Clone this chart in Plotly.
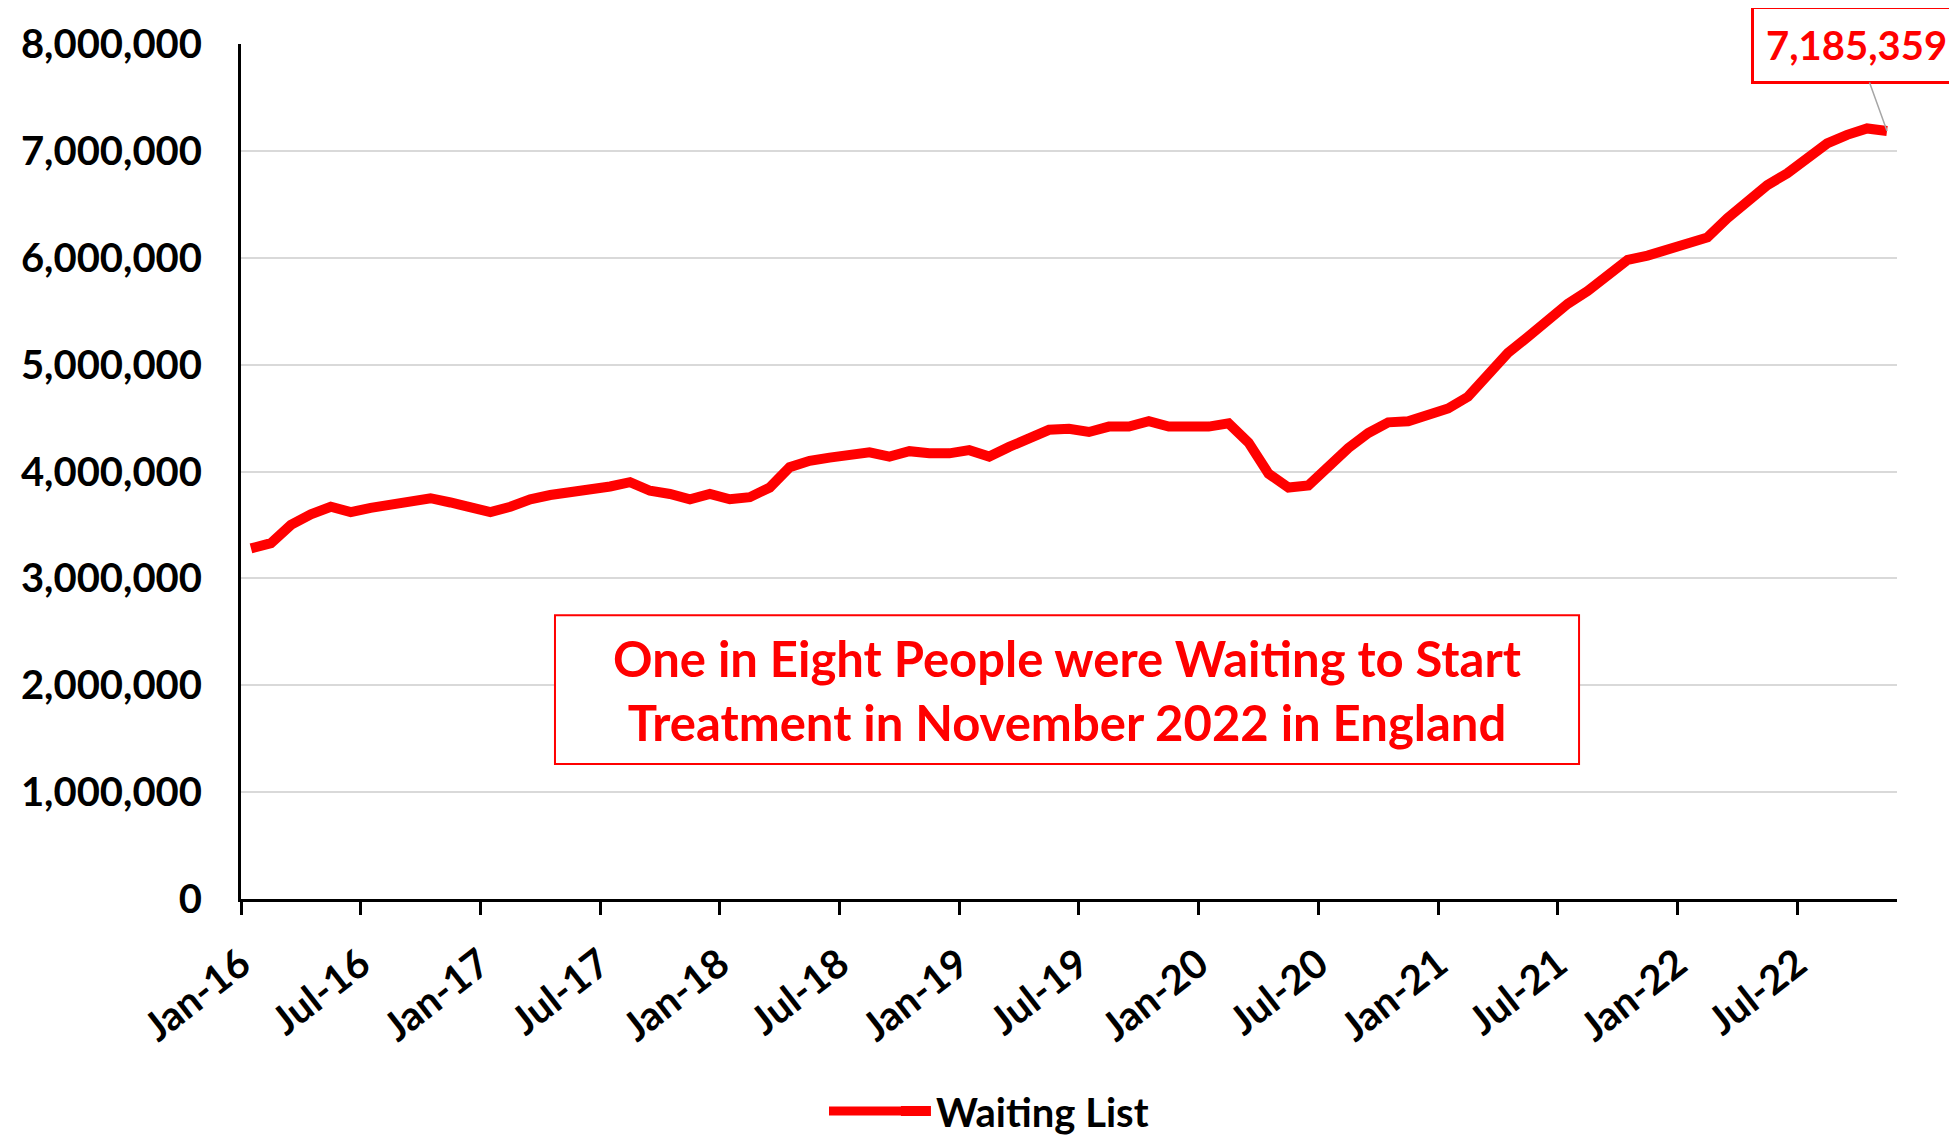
import pandas as pd
import plotly.graph_objects as go

# Monthly RTT waiting list, Jan 2016 - Nov 2022
months = pd.date_range("2016-01-01", "2022-11-01", freq="MS").strftime("%b-%y").tolist()
waiting_list = [
    3280000, 3330000, 3500000, 3600000, 3670000, 3620000, 3660000, 3690000, 3710000, 3750000, 3710000, 3660000,  # 2016
    3620000, 3670000, 3740000, 3780000, 3800000, 3820000, 3860000, 3900000, 3820000, 3790000, 3740000, 3790000,  # 2017
    3740000, 3760000, 3850000, 4040000, 4100000, 4130000, 4150000, 4180000, 4140000, 4190000, 4170000, 4170000,  # 2018
    4200000, 4140000, 4230000, 4310000, 4390000, 4400000, 4370000, 4420000, 4420000, 4470000, 4420000, 4420000,  # 2019
    4420000, 4450000, 4270000, 3980000, 3850000, 3870000, 4050000, 4220000, 4360000, 4460000, 4470000, 4530000,  # 2020
    4590000, 4700000, 4920000, 5110000, 5260000, 5420000, 5570000, 5690000, 5830000, 5980000, 6020000, 6080000,  # 2021
    6130000, 6190000, 6370000, 6530000, 6680000, 6790000, 6940000, 7070000, 7150000, 7210000, 7185359,           # 2022
]
tick_labels = ["Jan-16", "Jul-16", "Jan-17", "Jul-17", "Jan-18", "Jul-18", "Jan-19",
               "Jul-19", "Jan-20", "Jul-20", "Jan-21", "Jul-21", "Jan-22", "Jul-22"]
y_ticks = [0, 1000000, 2000000, 3000000, 4000000, 5000000, 6000000, 7000000, 8000000]
series_name = "Waiting List"
last_label = "7,185,359"
box_text = "One in Eight People were Waiting to Start<br>Treatment in November 2022 in England"

x_idx = list(range(len(months)))
tick_pos = [months.index(t) - 0.5 for t in tick_labels]

FONT = "Lato"
RED = "#FF0000"

fig = go.Figure()
fig.add_trace(go.Scatter(
    x=x_idx, y=waiting_list, mode="lines", name=series_name,
    customdata=months, hovertemplate="%{customdata}: %{y:,}<extra></extra>",
    line=dict(color=RED, width=10),
))

fig.update_layout(
    width=1949, height=1131,
    paper_bgcolor="white", plot_bgcolor="white",
    margin=dict(l=233, r=60, t=36, b=240, autoexpand=False),
    font=dict(family=FONT, color="#000000"),
    showlegend=True,
    legend=dict(orientation="h", x=0.3955, xanchor="left", y=-0.248, yanchor="middle",
                bgcolor="rgba(0,0,0,0)",
                font=dict(family=FONT, size=40, color="#000000", weight="bold")),
    xaxis=dict(
        range=[-0.5, len(months) - 0.5], tickmode="array", tickvals=tick_pos, ticktext=tick_labels,
        tickangle=-38, tickfont=dict(family=FONT, size=40, color="#000000", weight="bold"),
        showline=True, linecolor="#000000", linewidth=3,
        ticks="outside", ticklen=13, tickwidth=3, tickcolor="#000000",
        showgrid=False, zeroline=False, ticklabelstandoff=10, automargin=False,
    ),
    yaxis=dict(
        range=[0, 8000000], tickmode="array", tickvals=y_ticks, tickformat=",d",
        tickfont=dict(family=FONT, size=40, color="#000000", weight="bold"),
        showline=True, linecolor="#000000", linewidth=3,
        showgrid=True, gridcolor="#D9D9D9", gridwidth=2, zeroline=False,
        ticks="", ticklabelstandoff=28, automargin=False,
    ),
)

# text box
fig.add_shape(type="rect", xref="paper", yref="paper", x0=0.1896, x1=0.808, y0=0.158, y1=0.332,
              line=dict(color=RED, width=2), fillcolor="white", layer="above")
fig.add_annotation(xref="paper", yref="paper", x=0.4988, y=0.2444, xanchor="center", yanchor="middle",
                   text=box_text, showarrow=False, align="center",
                   font=dict(family=FONT, size=49, color=RED, weight="bold"))

# legend key extension (longer legend line as in the original)
fig.add_shape(type="line", xref="paper", yref="paper",
              x0=(829 - 241) / 1656, x1=(915 - 241) / 1656, y0=-0.248, y1=-0.248,
              line=dict(color=RED, width=9))

# data label on the last point
fig.add_annotation(x=x_idx[-1], y=waiting_list[-1], text=last_label,
                   showarrow=True, arrowhead=0, arrowwidth=1.5, arrowcolor="#A6A6A6",
                   ax=-31, ay=-86, bgcolor="white", bordercolor=RED, borderwidth=3, borderpad=12,
                   font=dict(family=FONT, size=40, color=RED, weight="bold"))

fig.write_html("out.html")
